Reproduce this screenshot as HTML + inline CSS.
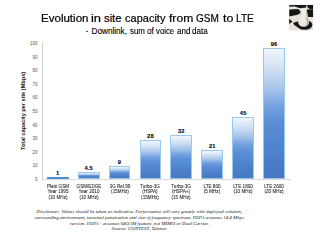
<!DOCTYPE html>
<html><head><meta charset="utf-8"><style>
html,body{margin:0;padding:0;background:#fff;width:320px;height:240px;overflow:hidden;position:relative}
*{box-sizing:border-box}
body{font-family:"Liberation Sans",sans-serif;color:#000}
.title{position:absolute;top:11.1px;transform-origin:0 0;font-size:11.25px;white-space:nowrap;line-height:14px;color:#000;-webkit-text-stroke:0.2px #000}
.sub{position:absolute;top:26.5px;transform-origin:0 0;font-size:8.2px;white-space:nowrap;line-height:10px;color:#000;-webkit-text-stroke:0.12px #000}
.yl{position:absolute;left:20px;width:17.5px;text-align:right;font-size:4.5px;line-height:6px;color:#555}
.bar{position:absolute;border:0.6px solid #9cc8ec;background:linear-gradient(to bottom,#f0f5fc 0%,#d9e6f6 12%,#a9c6ec 30%,#74a2e0 44%,#5c90d8 55%,#4f84cf 75%,#4678c3 100%)}
.vl{position:absolute;width:30px;text-align:center;font-size:5.7px;font-weight:bold;line-height:6px;color:#000;letter-spacing:0.2px;-webkit-text-stroke:0.1px #000}
.cl{position:absolute;width:40px;text-align:center;font-size:4.95px;line-height:5.3px;color:#222;letter-spacing:0.02px;-webkit-text-stroke:0.08px #333;transform:scaleX(0.93);transform-origin:50% 0}
.tk{position:absolute;top:179.5px;width:0.5px;height:1.5px;background:#e4e4e4}
.yax{position:absolute;left:41.9px;top:41.8px;width:0.6px;height:137.8px;background:#d0d0d0}
.xax{position:absolute;left:42px;top:179.2px;width:249px;height:0.6px;background:#dcdcdc}
.ytitle{position:absolute;left:23.3px;top:110.7px;transform:translate(-50%,-50%) rotate(-90deg);font-size:5.6px;font-weight:bold;white-space:nowrap;color:#111}
.disc{position:absolute;left:0px;width:278.6px;top:209.1px;text-align:center;font-family:"Liberation Serif",serif;font-style:italic;font-size:5.0px;letter-spacing:-0.02px;line-height:5.78px;white-space:nowrap;color:#181818}
.chess{position:absolute;left:288px;top:4px}
</style></head><body>
<span class="title" style="left:40.72px;transform:scaleX(1.026)">Evolution</span><span class="title" style="left:90.85px;transform:scaleX(1.150)">in</span><span class="title" style="left:104.00px;transform:scaleX(1.000)">site</span><span class="title" style="left:124.50px;transform:scaleX(0.979)">capacity</span><span class="title" style="left:169.40px;transform:scaleX(1.077)">from</span><span class="title" style="left:196.30px;transform:scaleX(0.892)">GSM</span><span class="title" style="left:223.35px;transform:scaleX(1.100)">to</span><span class="title" style="left:236.20px;transform:scaleX(0.900)">LTE</span>
<span class="sub" style="left:86.30px;transform:scaleX(0.800)">-</span><span class="sub" style="left:91.50px;transform:scaleX(1.000)">Downlink,</span><span class="sub" style="left:129.50px;transform:scaleX(0.967)">sum</span><span class="sub" style="left:147.00px;transform:scaleX(1.000)">of</span><span class="sub" style="left:156.00px;transform:scaleX(0.947)">voice</span><span class="sub" style="left:176.80px;transform:scaleX(0.996)">and</span><span class="sub" style="left:192.00px;transform:scaleX(0.984)">data</span>
<div class="yax"></div><div class="xax"></div>
<div class="ytitle">Total capacity per site (Mbps)</div>
<div class="yl" style="top:177.10px">0</div>
<div class="yl" style="top:163.49px">10</div>
<div class="yl" style="top:149.88px">20</div>
<div class="yl" style="top:136.27px">30</div>
<div class="yl" style="top:122.66px">40</div>
<div class="yl" style="top:109.05px">50</div>
<div class="yl" style="top:95.44px">60</div>
<div class="yl" style="top:81.83px">70</div>
<div class="yl" style="top:68.22px">80</div>
<div class="yl" style="top:54.61px">90</div>
<div class="yl" style="top:41.00px">100</div>
<div style="position:absolute;left:46.80px;top:176.64px;width:21.90px;height:2.46px;background:#4f8ad2;border-radius:0.5px"></div>
<div class="vl" style="left:42.75px;top:169.94px">1</div>
<div class="cl" style="left:37.75px;top:184.2px">Plain GSM<br>Year 1995<br>(10 MHz)</div>
<div class="bar" style="left:77.70px;top:172.18px;width:21.90px;height:6.92px"></div>
<div class="vl" style="left:73.65px;top:165.18px">4.5</div>
<div class="cl" style="left:68.65px;top:184.2px">GSM/EDGE<br>Year 2010<br>(10 MHz)</div>
<div class="bar" style="left:108.60px;top:166.05px;width:21.90px;height:13.05px"></div>
<div class="vl" style="left:104.55px;top:159.05px">9</div>
<div class="cl" style="left:99.55px;top:184.2px">3G Rel.99<br>(15MHz)</div>
<div class="bar" style="left:139.50px;top:140.19px;width:21.90px;height:38.91px"></div>
<div class="vl" style="left:135.45px;top:133.19px">28</div>
<div class="cl" style="left:130.45px;top:184.2px">Turbo-3G<br>(HSPA)<br>(15MHz)</div>
<div class="bar" style="left:170.40px;top:134.75px;width:21.90px;height:44.35px"></div>
<div class="vl" style="left:166.35px;top:127.75px">32</div>
<div class="cl" style="left:161.35px;top:184.2px">Turbo-3G<br>(HSPA+)<br>(15 MHz)</div>
<div class="bar" style="left:201.30px;top:149.72px;width:21.90px;height:29.38px"></div>
<div class="vl" style="left:197.25px;top:142.72px">21</div>
<div class="cl" style="left:192.25px;top:184.2px">LTE 800<br>(5 MHz)</div>
<div class="bar" style="left:232.20px;top:117.06px;width:21.90px;height:62.04px"></div>
<div class="vl" style="left:228.15px;top:110.06px">45</div>
<div class="cl" style="left:223.15px;top:184.2px">LTE 1800<br>(10 MHz)</div>
<div class="bar" style="left:263.10px;top:47.64px;width:21.90px;height:131.46px"></div>
<div class="vl" style="left:259.05px;top:40.64px">96</div>
<div class="cl" style="left:254.05px;top:184.2px">LTE 2600<br>(20 MHz)</div>
<div class="tk" style="left:42.30px"></div>
<div class="tk" style="left:73.20px"></div>
<div class="tk" style="left:104.10px"></div>
<div class="tk" style="left:135.00px"></div>
<div class="tk" style="left:165.90px"></div>
<div class="tk" style="left:196.80px"></div>
<div class="tk" style="left:227.70px"></div>
<div class="tk" style="left:258.60px"></div>
<div class="tk" style="left:289.50px"></div>
<div class="disc">Disclaimer: Values should be taken as indicative. Performance will vary greatly with deployed solution,<br>surrounding environment, terminal penetration and size of frequency spectrum. HSPA assumes 14.4 Mbps<br>version. HSPA+ assumes 64QAM feature, not MIMO or Dual Carrier.<br>Source: CONTEST, Telenor.</div>
<svg class="chess" width="26" height="28" viewBox="288 4 26 28">
<defs><filter id="bl" x="-10%" y="-10%" width="120%" height="120%"><feGaussianBlur stdDeviation="0.55"/></filter>
<clipPath id="cp"><rect x="289.1" y="4.3" width="24.1" height="26.1"/></clipPath></defs>
<g clip-path="url(#cp)" filter="url(#bl)">
<rect x="288" y="4" width="26" height="28" fill="#e6e2da"/><rect x="288" y="4" width="26" height="1.0" fill="#eeece8"/>
<polygon fill="#161616" points="289.1,5.2 294,5.0 294,6.4 289.1,6.8"/>
<polygon fill="#161616" points="294,5.0 306.4,5.0 306.2,7.4 300.2,8.2 294.5,6.4"/>
<polygon fill="#161616" points="307.2,5.1 313.3,5.0 313.3,9.1 309.8,9.1 307.6,7.6"/>
<polygon fill="#161616" points="289.1,9.6 298.2,8.9 301.6,12.6 297.6,14.8 289.1,16.6"/>
<polygon fill="#161616" points="307.0,9.4 313.3,9.2 313.3,17.0 308.4,17.0 306.9,13.2"/>
<polygon fill="#161616" points="288.9,18.4 292.5,21.7 288.9,24.1"/>
<polygon fill="#161616" points="293.2,22.7 298.4,21.2 300.4,23.2 302.4,29.8 298,27.6 293.9,24.7"/>
<ellipse cx="304.8" cy="25" rx="7.6" ry="4.8" fill="#161616"/>
<ellipse cx="303.6" cy="22.6" rx="5.4" ry="4.1" fill="#ebe7df"/>
<path fill="#f1eee8" d="M300.3,21.5 C300.6,19 301.2,17.5 300.6,15.5 C299.8,14.5 299.4,13.6 300.2,12.6 C301,11.5 302.2,10.2 302.8,9 L303.4,8.3 L304,9.2 L305.2,8.6 L305.5,9.8 C307,11 307.6,13 307.4,15.5 C307.3,17.5 307.8,19.5 308.2,21.5 Z"/>
<path fill="#9d978c" d="M305.8,9.6 C307.3,11 307.7,13.2 307.4,15.5 C307.2,17.4 307.8,19.6 308.3,21.6 L307.2,21.6 C306.8,19.5 306.4,17.3 306.5,15.4 C306.7,13.3 306.6,11.2 305.8,9.6 Z"/>
<path fill="#b9b3a8" d="M304.6,18.5 C307.2,19 308.6,21 308.3,23.2 C308,25 306.6,26.2 304.5,26.5 C306.2,25.4 306.9,24 306.9,22.6 C306.9,20.8 306,19.4 304.6,18.5 Z"/>
<path fill="#a8a296" d="M300.2,12.6 C299.6,13.5 299.9,14.5 300.8,15.3 L301.6,14.6 C301,14 300.9,13.3 301.2,12.6 Z" opacity="0.8"/>
</g>
<rect x="288" y="4" width="26" height="0.6" fill="#fff" opacity="0.5"/>
</svg>
</body></html>
